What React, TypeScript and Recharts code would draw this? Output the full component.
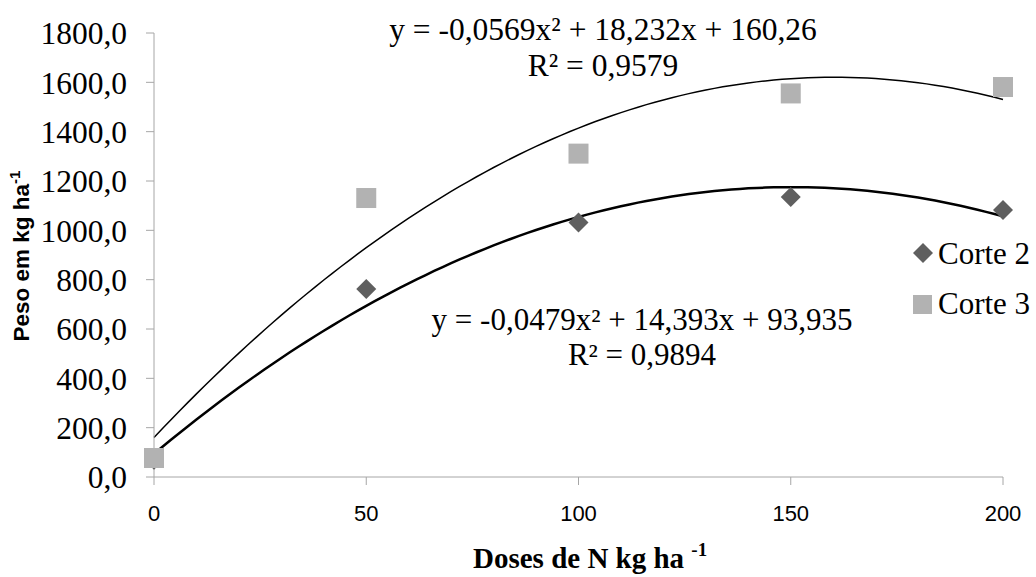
import { ComposedChart, Scatter, Line, XAxis, YAxis } from "recharts";

// doses de N (kg/ha)
const doses = [0, 50, 100, 150, 200];
// peso em kg/ha
const corte2 = [70, 762, 1032, 1135, 1082];
const corte3 = [77, 1131, 1311, 1555, 1581];

const xTicks = [0, 50, 100, 150, 200];
const yTicks = [0, 200, 400, 600, 800, 1000, 1200, 1400, 1600, 1800];

// polynomial trendline coefficients as printed on the chart: [a, b, c] for ax² + bx + c
const fit2 = [-0.0479, 14.393, 93.935];
const fit3 = [-0.0569, 18.232, 160.26];
const eq2 = ["y = -0,0479x² + 14,393x + 93,935", "R² = 0,9894"];
const eq3 = ["y = -0,0569x² + 18,232x + 160,26", "R² = 0,9579"];

const pts = (ys: number[]) => doses.map((x, i) => ({ x, y: ys[i] }));

const curve = (c: number[]) => {
  const out: { x: number; y: number }[] = [];
  for (let x = 0; x <= 200; x += 2) out.push({ x, y: c[0] * x * x + c[1] * x + c[2] });
  return out;
};

const serif = "'Liberation Serif', 'Times New Roman', serif";
const sans = "'Liberation Sans', Arial, sans-serif";
const axisGray = "#a6a6a6";
const c2Color = "#5f5f5f";
const c3Color = "#b2b2b2";

const Diamond = (props: any) => {
  const { cx, cy } = props;
  const r = 10;
  return <polygon points={`${cx},${cy - r} ${cx + r},${cy} ${cx},${cy + r} ${cx - r},${cy}`} fill={c2Color} />;
};

const Square = (props: any) => {
  const { cx, cy } = props;
  return <rect x={cx - 10} y={cy - 10} width={20} height={20} fill={c3Color} />;
};

const fmt = (v: number) => v.toFixed(1).replace(".", ",");

export default function App() {
  return (
    <div style={{ position: "absolute", left: 0, top: 0, width: 1036, height: 577, background: "#fff" }}>
      <ComposedChart width={1036} height={577} margin={{ top: 33, right: 33, bottom: 0, left: 54 }}>
        <XAxis
          type="number"
          dataKey="x"
          domain={[0, 200]}
          ticks={xTicks}
          height={100}
          stroke={axisGray}
          tickSize={8}
          tickMargin={20}
          tick={{ fill: "#000", fontSize: 22, fontFamily: sans }}
          allowDuplicatedCategory={false}
        />
        <YAxis
          type="number"
          dataKey="y"
          domain={[0, 1800]}
          ticks={yTicks}
          width={100}
          stroke={axisGray}
          tickSize={8}
          tickMargin={19}
          tickFormatter={fmt}
          tick={{ fill: "#000", fontSize: 31.5, fontFamily: serif }}
        />
        <Scatter data={pts(corte2)} dataKey="y" shape={<Diamond />} isAnimationActive={false} />
        <Scatter data={pts(corte3)} dataKey="y" shape={<Square />} isAnimationActive={false} />
        <Line data={curve(fit3)} dataKey="y" type="linear" stroke="#000" strokeWidth={1.5} dot={false} isAnimationActive={false} />
        <Line data={curve(fit2)} dataKey="y" type="linear" stroke="#000" strokeWidth={2.5} dot={false} isAnimationActive={false} />
      </ComposedChart>

      <svg width={1036} height={577} style={{ position: "absolute", left: 0, top: 0, pointerEvents: "none" }}>
        {/* trendline equations */}
        <text fontFamily={serif} fontSize={31.5} textAnchor="middle" fill="#000">
          <tspan x={603} y={40}>{eq3[0]}</tspan>
          <tspan x={603} y={76}>{eq3[1]}</tspan>
        </text>
        <text fontFamily={serif} fontSize={31} textAnchor="middle" fill="#000">
          <tspan x={642} y={330}>{eq2[0]}</tspan>
          <tspan x={642} y={365}>{eq2[1]}</tspan>
        </text>

        {/* legend */}
        <polygon points="923,243 933,253 923,263 913,253" fill={c2Color} />
        <text x={938} y={264} fontFamily={serif} fontSize={31} fill="#000">Corte 2</text>
        <rect x={913} y={295} width={19} height={19} fill={c3Color} />
        <text x={938} y={314} fontFamily={serif} fontSize={31} fill="#000">Corte 3</text>

        {/* axis titles */}
        <text x={473} y={568} fontFamily={serif} fontWeight="bold" fontSize={29} fill="#000">
          Doses de N kg ha <tspan fontSize={19} dy={-12}>-1</tspan>
        </text>
        <text
          transform="translate(29,256) rotate(-90)"
          textAnchor="middle"
          fontFamily={sans}
          fontWeight="bold"
          fontSize={22.5}
          fill="#000"
        >
          Peso em kg ha<tspan fontSize={15} dy={-9}>-1</tspan>
        </text>
      </svg>
    </div>
  );
}
